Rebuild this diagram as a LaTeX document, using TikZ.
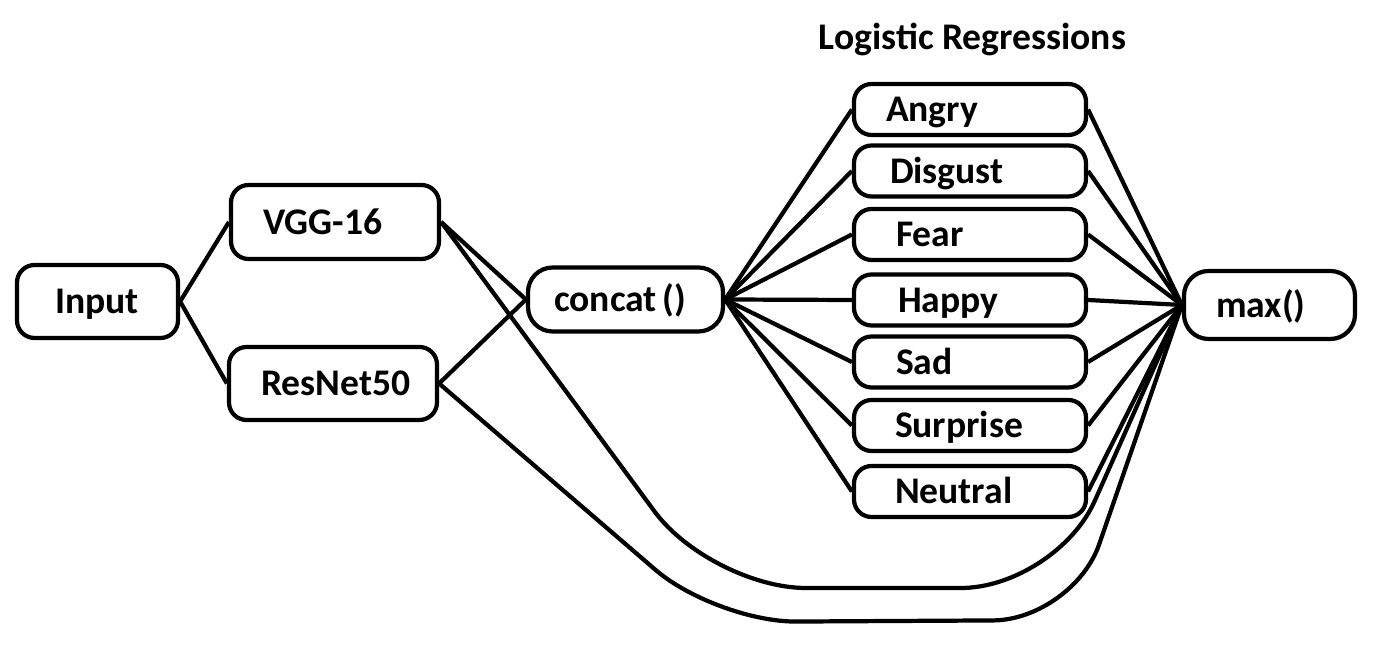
\documentclass[tikz,border=0pt]{standalone}
\usepackage{fontspec}
\setmainfont{Carlito}
\usetikzlibrary{positioning}

\tikzset{
  box/.style={draw, line width=1.2pt, rounded corners=5pt, align=left,
    inner xsep=0.32cm, inner ysep=0pt, text height=6.9pt, text depth=0pt,
    font=\fontsize{10.7}{12}\selectfont\bfseries},
  lrbox/.style={box, minimum height=0.51cm},
  link/.style={line width=1.2pt, line join=round},
}

\begin{document}
\begin{tikzpicture}
  \useasboundingbox (0,0) rectangle (13.76,-6.56);

  % feature extractors
  \node[box, inner xsep=0.38cm, text width=0.85cm, minimum height=0.73cm] (input) at (0.975,-3.015) {Input};
  \node[box, text width=1.44cm, minimum height=0.74cm] (vgg) at (3.35,-2.22) {VGG-16};
  \node[box, text width=1.44cm, minimum height=0.73cm] (resnet) at (3.33,-3.835) {ResNet50};
  \node[box, inner xsep=0.26cm, text width=1.43cm, minimum height=0.64cm, rounded corners=7pt] (concat) at (6.255,-2.995) {concat\,()};
  \node[box, text width=1.07cm, minimum height=0.68cm, rounded corners=7pt] (max) at (12.695,-3.05) {max()};

  % logistic regressions
  \node[font=\fontsize{10.7}{12}\selectfont\bfseries, anchor=base] (title) at (9.725,-0.50) {Logistic Regressions};
  \foreach \name/\lbl/\y/\sep/\tw in {angry/Angry/1.095/0.32/1.68, disgust/Disgust/1.71/0.36/1.60,
      fear/Fear/2.345/0.42/1.48, happy/Happy/3.00/0.44/1.44, sad/Sad/3.62/0.42/1.48,
      surprise/Surprise/4.255/0.41/1.50, neutral/Neutral/4.915/0.41/1.50}
    \node[lrbox, inner xsep=\sep cm, text width=\tw cm] (\name) at (9.70,-\y) {\lbl};

  \draw[link] (input.east) -- (vgg.west);
  \draw[link] (input.east) -- (resnet.west);
  \draw[link] (vgg.east) -- (concat.west);
  \draw[link] (resnet.east) -- (concat.west);
  \foreach \name in {angry,disgust,fear,happy,sad,surprise,neutral} {
    \draw[link] (concat.east) -- (\name.west);
    \draw[link] (\name.east) -- (max.west);
  }

  % skip connections to max()
  \coordinate (vggdipa) at (7.11,-5.88);
  \coordinate (vggdipb) at (10.56,-5.88);
  \coordinate (resdipa) at (7.16,-6.22);
  \coordinate (resdipb) at (10.73,-6.20);
  \draw[link, rounded corners=0.95cm] (vgg.east) -- (vggdipa) -- (vggdipb) -- (max.west);
  \draw[link, rounded corners=0.8cm] (resnet.east) -- (resdipa) -- (resdipb) -- (max.west);
\end{tikzpicture}
\end{document}
